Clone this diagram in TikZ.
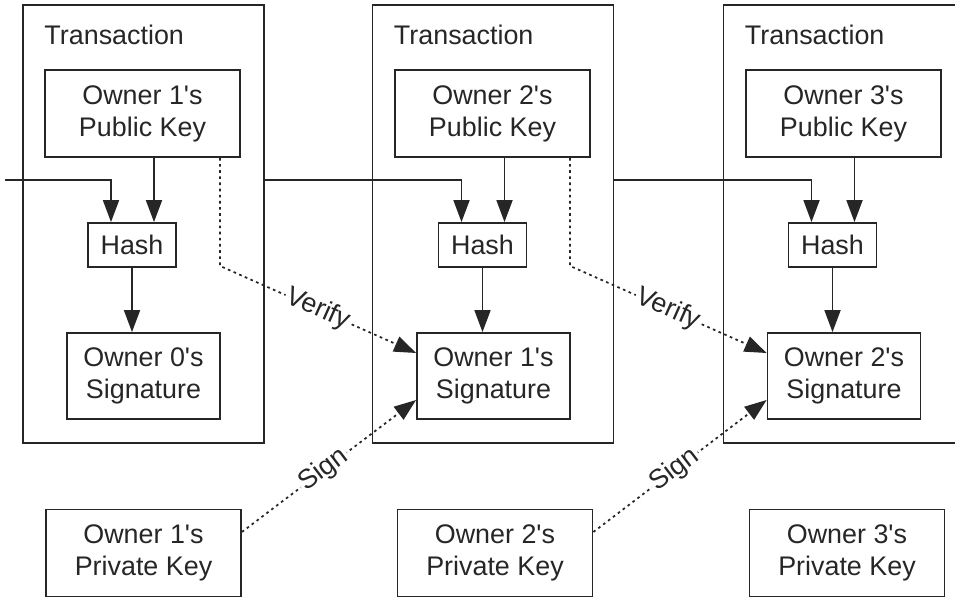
\documentclass[tikz,border=0pt]{standalone}
\usepackage{fontspec}
\setmainfont{Liberation Sans}[Ligatures=TeXOff]
\usepackage{tikz}
\usetikzlibrary{calc, arrows.meta}

\begin{document}
\begin{tikzpicture}[x=0.2mm, y=-0.2mm, >={Triangle[length=4.4mm, width=3.2mm]},
    every node/.style={font=\fontsize{15.3}{18.2}\selectfont, text=black!85},
    box/.style={draw=black!85, line width=1pt, align=center, inner sep=0pt},
    txbox/.style={box, minimum width=48.2mm, minimum height=87.6mm},
    keybox/.style={box, minimum width=39mm, minimum height=17.4mm},
    hashbox/.style={box, minimum width=17.6mm, minimum height=8.8mm},
    sigbox/.style={box, minimum width=30.6mm, minimum height=17.2mm},
    link/.style={draw=black!85, line width=1pt},
    sign/.style={draw=black!85, line width=1pt, dash pattern=on 1.5pt off 2pt}]
    \clip (0,0) rectangle (955,600);

    % 1. Transaction frames
    \node[txbox] (tx1) at (143.5,224) {};
    \node[txbox] (tx2) at (493,224) {};
    \node[txbox] (tx3) at (844,224) {};
    \node[anchor=west, inner sep=0pt] (tl1) at ($(tx1.north west)+(22,31)$) {Transaction};
    \node[anchor=west, inner sep=0pt] (tl2) at ($(tx2.north west)+(22,31)$) {Transaction};
    \node[anchor=west, inner sep=0pt] (tl3) at ($(tx3.north west)+(22,31)$) {Transaction};

    % 2. Public keys, hashes, signatures and private keys
    \node[keybox] (pub1) at (142.5,113.5) {Owner 1's\\Public Key};
    \node[keybox] (pub2) at (492.5,113.5) {Owner 2's\\Public Key};
    \node[keybox] (pub3) at (843.5,113.5) {Owner 3's\\Public Key};

    \node[hashbox] (hash1) at (132,245) {Hash};
    \node[hashbox] (hash2) at (482.5,245) {Hash};
    \node[hashbox] (hash3) at (832.5,245) {Hash};

    \node[sigbox] (sig1) at (143.5,376) {Owner 0's\\Signature};
    \node[sigbox] (sig2) at (493.5,376) {Owner 1's\\Signature};
    \node[sigbox] (sig3) at (844,376) {Owner 2's\\Signature};

    \node[keybox] (priv1) at (143.5,553) {Owner 1's\\Private Key};
    \node[keybox] (priv2) at (495,553) {Owner 2's\\Private Key};
    \node[keybox] (priv3) at (847,553) {Owner 3's\\Private Key};

    % 3. Chain of transactions into each hash
    \coordinate (start) at (5,180);
    \coordinate (in1) at ($(hash1.north)+(-21,0)$);
    \coordinate (in2) at ($(hash2.north)+(-21,0)$);
    \coordinate (in3) at ($(hash3.north)+(-21,0)$);
    \coordinate (pk1) at ($(hash1.north)+(22,0)$);
    \coordinate (pk2) at ($(hash2.north)+(22,0)$);
    \coordinate (pk3) at ($(hash3.north)+(22,0)$);

    \draw[link, ->] (start) -| (in1);
    \draw[link, ->] (tx1.east |- start) -| (in2);
    \draw[link, ->] (tx2.east |- start) -| (in3);

    \draw[link, ->] (pub1.south -| pk1) -- (pk1);
    \draw[link, ->] (pub2.south -| pk2) -- (pk2);
    \draw[link, ->] (pub3.south -| pk3) -- (pk3);

    \draw[link, ->] (hash1.south) -- (hash1.south |- sig1.north);
    \draw[link, ->] (hash2.south) -- (hash2.south |- sig2.north);
    \draw[link, ->] (hash3.south) -- (hash3.south |- sig3.north);

    % 4. Verify and Sign
    \coordinate (v1) at ($(pub1.south east)+(-21,0)$);
    \coordinate (v2) at ($(pub2.south east)+(-21,0)$);
    \draw[sign, ->] (v1) -- ++(0,108) -- ($(sig2.west)+(0,-23)$)
        node[midway, sloped, fill=white, inner sep=1pt] {Verify};
    \draw[sign, ->] (v2) -- ++(0,108) -- ($(sig3.west)+(0,-23)$)
        node[midway, sloped, fill=white, inner sep=1pt] {Verify};

    \draw[sign, ->] ($(priv1.east)+(0,-21)$) -- ($(sig2.west)+(0,24)$)
        node[pos=0.47, sloped, fill=white, inner sep=1pt] {Sign};
    \draw[sign, ->] ($(priv2.east)+(0,-21)$) -- ($(sig3.west)+(0,24)$)
        node[pos=0.47, sloped, fill=white, inner sep=1pt] {Sign};

\end{tikzpicture}
\end{document}
